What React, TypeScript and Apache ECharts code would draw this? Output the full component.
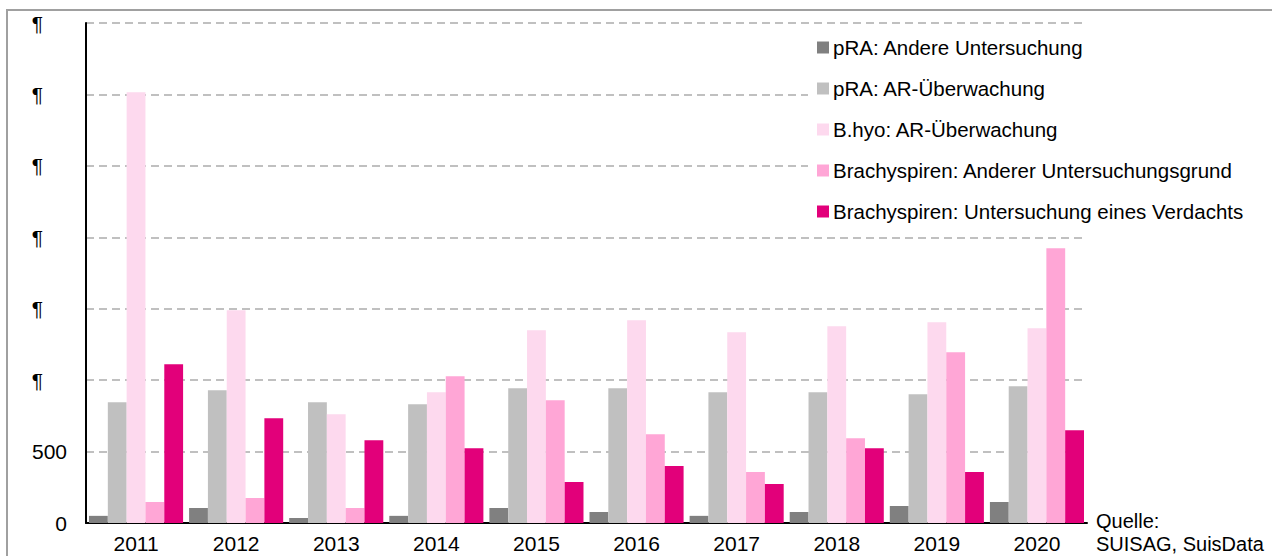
import React, { useEffect, useRef } from "react";
import * as echarts from "echarts";

const years = ["2011", "2012", "2013", "2014", "2015", "2016", "2017", "2018", "2019", "2020"];
const seriesNames = [
  "pRA: Andere Untersuchung",
  "pRA: AR-Überwachung",
  "B.hyo: AR-Überwachung",
  "Brachyspiren: Anderer Untersuchungsgrund",
  "Brachyspiren: Untersuchung eines Verdachts",
];
const praAndere = [50, 105, 35, 50, 105, 77, 50, 77, 119, 147];
const praAR = [846, 930, 846, 832, 944, 944, 916, 916, 902, 958];
const bhyoAR = [3015, 1490, 762, 916, 1350, 1420, 1336, 1378, 1406, 1364];
const brachyAnderer = [147, 175, 105, 1028, 860, 622, 357, 594, 1196, 1923];
const brachyVerdacht = [1112, 734, 580, 524, 287, 399, 273, 524, 357, 650];
const yTickLabels = ["0", "500", "¶", "¶", "¶", "¶", "¶", "¶"];
const colors = ["#808080", "#c0c0c0", "#fdd9ee", "#ffa6d6", "#e2007a"];
const sourceLines = ["Quelle:", "SUISAG, SuisData"];

const FONT = "'Liberation Sans', Arial, sans-serif";

export default function App() {
  const ref = useRef<HTMLDivElement>(null);
  useEffect(() => {
    if (!ref.current) return;
    const chart = echarts.init(ref.current, null, { renderer: "svg" });
    const allData = [praAndere, praAR, bhyoAR, brachyAnderer, brachyVerdacht];
    chart.setOption({
      animation: false,
      textStyle: { fontFamily: FONT },
      grid: { left: 86, right: 185, top: 23, bottom: 33, containLabel: false, outerBoundsMode: "none" },
      legend: {
        orient: "vertical",
        left: 808,
        top: 30,
        padding: [7, 10, 10, 9],
        backgroundColor: "#ffffff",
        itemWidth: 12,
        itemHeight: 12,
        itemGap: 20,
        icon: "rect",
        data: seriesNames,
        textStyle: { fontFamily: FONT, fontSize: 20.5, color: "#000", lineHeight: 20, padding: [0, 0, 0, -1] },
      },
      xAxis: {
        type: "category",
        data: years,
        axisLine: { lineStyle: { color: "#000", width: 2 } },
        axisTick: { show: false },
        axisLabel: { fontFamily: FONT, fontSize: 21, lineHeight: 21, color: "#000", margin: 10 },
      },
      yAxis: {
        type: "value",
        min: 0,
        max: 3500,
        interval: 500,
        axisLine: { show: true, lineStyle: { color: "#000", width: 2 } },
        axisTick: { show: false },
        splitLine: { lineStyle: { color: "#c0c0c0", width: 2, type: [8, 5] } },
        axisLabel: {
          fontFamily: FONT,
          fontSize: 21,
          color: "#000",
          margin: 19,
          formatter: (v: number) => {
            const t = yTickLabels[Math.round(v / 500)] ?? "";
            return t === "¶" ? "{p|¶}" : t;
          },
          rich: { p: { fontFamily: FONT, fontSize: 21, color: "#000", padding: [0, 24, 0, 0] } },
        },
      },
      graphic: [
        {
          type: "rect",
          shape: { x: 7, y: 10, width: 1280, height: 560 },
          style: { fill: "none", stroke: "#a0a0a0", lineWidth: 2 },
          silent: true,
        },
        {
          type: "text",
          left: 1096,
          top: 509,
          style: { text: sourceLines.join("\n"), font: `20px ${FONT}`, fill: "#000", lineHeight: 23 },
        },
      ],
      series: seriesNames.map((name, i) => ({
        name,
        type: "bar",
        data: allData[i],
        itemStyle: { color: colors[i] },
        barGap: "0%",
        barCategoryGap: "6%",
      })),
    });
    return () => chart.dispose();
  }, []);
  return (
    <div style={{ position: "absolute", left: 0, top: 0, width: 1272, height: 556, overflow: "hidden" }}>
      <div ref={ref} style={{ width: 1272, height: 556 }} />
    </div>
  );
}
